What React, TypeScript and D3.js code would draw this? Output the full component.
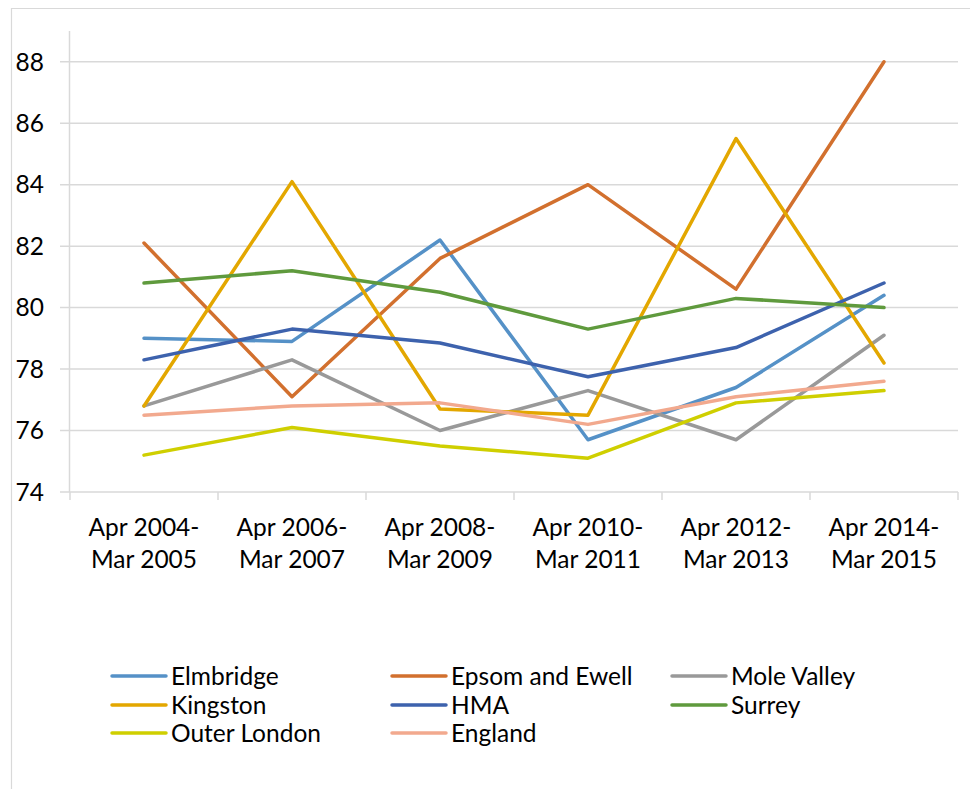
import React from "react";
import * as d3 from "d3";

const categories = [
  ["Apr 2004-", "Mar 2005"],
  ["Apr 2006-", "Mar 2007"],
  ["Apr 2008-", "Mar 2009"],
  ["Apr 2010-", "Mar 2011"],
  ["Apr 2012-", "Mar 2013"],
  ["Apr 2014-", "Mar 2015"],
];

const seriesNames = ["Elmbridge", "Epsom and Ewell", "Mole Valley", "Kingston", "HMA", "Surrey", "Outer London", "England"];
const seriesColors = ["#5591C7", "#D2702E", "#999999", "#E3A700", "#3D62AD", "#5F9A3D", "#CFCF00", "#F2A98E"];

const elmbridge = [79.0, 78.9, 82.2, 75.7, 77.4, 80.4];
const epsom = [82.1, 77.1, 81.6, 84.0, 80.6, 88.0];
const moleValley = [76.8, 78.3, 76.0, 77.3, 75.7, 79.1];
const kingston = [76.8, 84.1, 76.7, 76.5, 85.5, 78.2];
const hma = [78.3, 79.3, 78.85, 77.75, 78.7, 80.8];
const surrey = [80.8, 81.2, 80.5, 79.3, 80.3, 80.0];
const outerLondon = [75.2, 76.1, 75.5, 75.1, 76.9, 77.3];
const england = [76.5, 76.8, 76.9, 76.2, 77.1, 77.6];

const seriesValues = [elmbridge, epsom, moleValley, kingston, hma, surrey, outerLondon, england];
const yTicks = [74, 76, 78, 80, 82, 84, 86, 88];

const FONT = "Lato, 'Open Sans', sans-serif";
const FS = 24.5;

export default function App() {
  const W = 970, H = 789;
  const x = d3.scaleBand<number>().domain(d3.range(categories.length)).range([70, 958]);
  const y = d3.scaleLinear().domain([74, 89]).range([492, 31]);
  const cx = (i: number) => (x(i) as number) + x.bandwidth() / 2;
  const line = d3.line<number>().x((_, i) => cx(i)).y((v) => y(v));

  const legendCols = [112, 392, 672];
  const legendRows = [676, 705, 733];

  return (
    <div style={{ position: "absolute", left: 0, top: 0 }}>
      <svg width={W} height={H} style={{ display: "block", fontFamily: FONT }}>
        <rect x={0} y={0} width={W} height={H} fill="#fff" />
        <path d={`M11.5,${H + 2} V8.5 H${W + 2}`} fill="none" stroke="#d9d9d9" strokeWidth={1.2} />
        {/* gridlines */}
        {yTicks.map((t) => (
          <line key={t} x1={60} x2={958} y1={y(t)} y2={y(t)} stroke="#d9d9d9" strokeWidth={1.5} />
        ))}
        {/* vertical axis */}
        <line x1={69.5} x2={69.5} y1={31} y2={492} stroke="#d9d9d9" strokeWidth={1.5} />
        {/* x ticks */}
        {d3.range(categories.length + 1).map((i) => {
          const xx = i < categories.length ? (x(i) as number) : 958;
          return <line key={i} x1={xx} x2={xx} y1={492} y2={500} stroke="#d9d9d9" strokeWidth={1.5} />;
        })}
        {/* y labels */}
        {yTicks.map((t) => (
          <text key={t} x={44} y={y(t)} dy="0.36em" textAnchor="end" fontSize={FS} fill="#000">
            {t}
          </text>
        ))}
        {/* x labels */}
        {categories.map((c, i) => (
          <text key={i} textAnchor="middle" fontSize={FS} fill="#000">
            <tspan x={cx(i)} y={536}>{c[0]}</tspan>
            <tspan x={cx(i)} y={568}>{c[1]}</tspan>
          </text>
        ))}
        {/* series */}
        {seriesValues.map((vals, s) => (
          <path key={s} d={line(vals) as string} fill="none" stroke={seriesColors[s]} strokeWidth={3.5} strokeLinejoin="round" strokeLinecap="round" />
        ))}
        {/* legend */}
        {seriesNames.map((n, s) => {
          const lx = legendCols[s % 3];
          const ly = legendRows[Math.floor(s / 3)];
          return (
            <g key={n}>
              <line x1={lx} x2={lx + 54} y1={ly} y2={ly} stroke={seriesColors[s]} strokeWidth={3.5} strokeLinecap="round" />
              <text x={lx + 59} y={ly} dy="0.36em" fontSize={FS} fill="#000">{n}</text>
            </g>
          );
        })}
      </svg>
    </div>
  );
}
